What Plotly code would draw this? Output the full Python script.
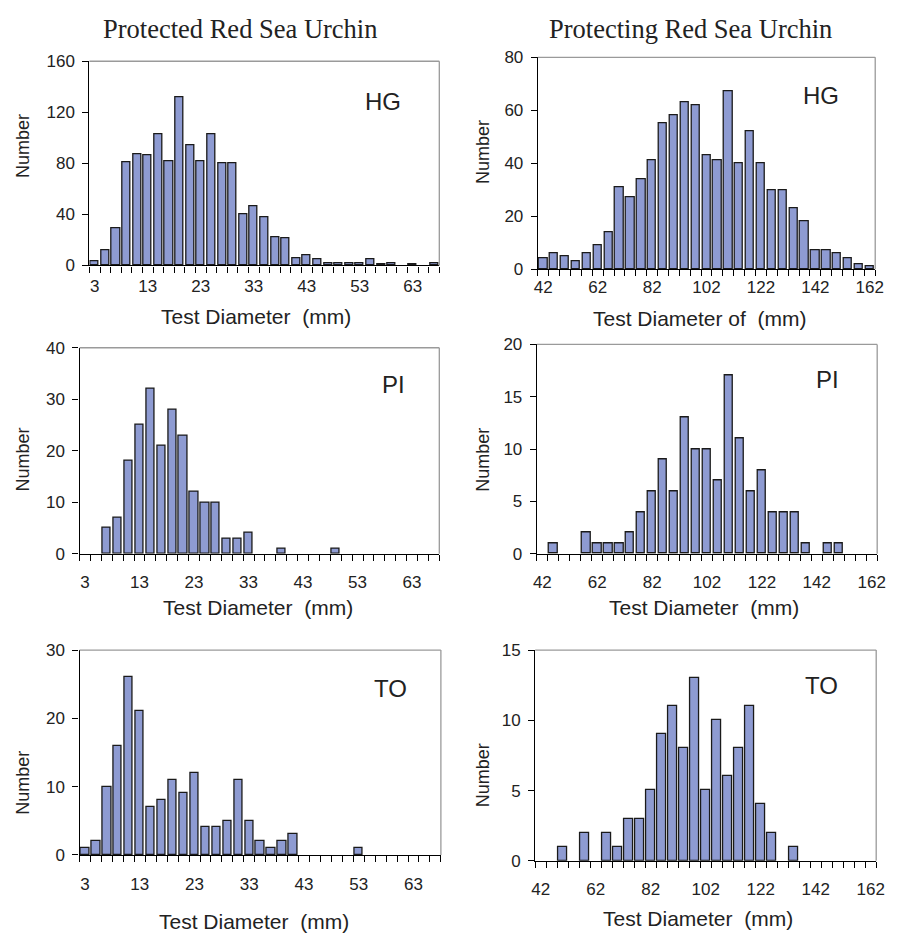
import plotly.graph_objects as go

# ---------------- data ----------------
left_bins = list(range(3, 68, 2))      # Test diameter (mm), protected urchin
right_bins = list(range(42, 163, 4))   # Test diameter (mm), protecting urchin
left_ticks = [3, 13, 23, 33, 43, 53, 63]
right_ticks = [42, 62, 82, 102, 122, 142, 162]

hg_protected = [3, 12, 29, 81, 87, 86, 103, 82, 132, 94,
                82, 103, 80, 80, 40, 46, 38, 22, 21, 6,
                8, 5, 2, 2, 2, 2, 5, 1, 2, 0,
                1, 0, 2]
pi_protected = [0, 0, 5, 7, 18, 25, 32, 21, 28, 23,
                12, 10, 10, 3, 3, 4, 0, 0, 1, 0,
                0, 0, 0, 1, 0, 0, 0, 0, 0, 0,
                0, 0, 0]
to_protected = [1, 2, 10, 16, 26, 21, 7, 8, 11, 9,
                12, 4, 4, 5, 11, 5, 2, 1, 2, 3,
                0, 0, 0, 0, 0, 1, 0, 0, 0, 0,
                0, 0, 0]

hg_protecting = [4, 6, 5, 3, 6, 9, 14, 31, 27, 34,
                 41, 55, 58, 63, 62, 43, 41, 67, 40, 52,
                 40, 30, 30, 23, 18, 7, 7, 6, 4, 2,
                 1]
pi_protecting = [0, 1, 0, 0, 2, 1, 1, 1, 2, 4,
                 6, 9, 6, 13, 10, 10, 7, 17, 11, 6,
                 8, 4, 4, 4, 1, 0, 1, 1, 0, 0,
                 0]
to_protecting = [0, 0, 1, 0, 2, 0, 2, 1, 3, 3,
                 5, 9, 11, 8, 13, 5, 10, 6, 8, 11,
                 4, 2, 0, 1, 0, 0, 0, 0, 0, 0,
                 0]

col_titles = ["Protected Red Sea Urchin", "Protecting Red Sea Urchin"]
site_labels = ["HG", "HG", "PI", "PI", "TO", "TO"]
x_titles = ["Test Diameter  (mm)", "Test Diameter of  (mm)",
            "Test Diameter  (mm)", "Test Diameter  (mm)",
            "Test Diameter  (mm)", "Test Diameter  (mm)"]
y_title = "Number"

# ---------------- styling / layout ----------------
W, H = 899, 943
BAR = "#8E9BD2"
TXT = "#222222"
SANS = "Liberation Sans, Arial, sans-serif"
SERIF = "Liberation Serif, Times New Roman, serif"

panels = [
    dict(x=left_bins, y=hg_protected, bw=2, xr=[2, 68], tv=left_ticks, ymax=160, dt=40,
         xd=(86.7, 441.7), yd=(53.3, 261.7), lab=(385, 94), xt=(256, 314), yt=(19, 140), so=5),
    dict(x=right_bins, y=hg_protecting, bw=4, xr=[40, 164], tv=right_ticks, ymax=80, dt=20,
         xd=(541.7, 884), yd=(49.3, 265.7), lab=(829, 88), xt=(706, 316), yt=(486, 146), so=2),
    dict(x=left_bins, y=pi_protected, bw=2, xr=[2, 68], tv=left_ticks, ymax=40, dt=10,
         xd=(76.7, 441.7), yd=(345.7, 556), lab=(395, 383), xt=(258, 611), yt=(19, 460), so=13),
    dict(x=right_bins, y=pi_protecting, bw=4, xr=[40, 164], tv=right_ticks, ymax=20, dt=5,
         xd=(540.7, 886), yd=(342.3, 556), lab=(836, 378), xt=(710, 611), yt=(486, 460), so=13),
    dict(x=left_bins, y=to_protected, bw=2, xr=[2, 68], tv=left_ticks, ymax=30, dt=10,
         xd=(76.7, 443.3), yd=(654.3, 863.3), lab=(392, 693), xt=(254, 931), yt=(19, 790), so=14),
    dict(x=right_bins, y=to_protecting, bw=4, xr=[40, 164], tv=right_ticks, ymax=15, dt=5,
         xd=(539, 885), yd=(654.3, 869.3), lab=(829, 690), xt=(704, 928), yt=(486, 782), so=13),
]

fig = go.Figure()
layout = dict(width=W, height=H, margin=dict(l=0, r=0, t=0, b=0),
              paper_bgcolor="white", plot_bgcolor="white", showlegend=False,
              font=dict(family=SANS, color=TXT, size=17), bargap=0)
annotations = []
shapes = []

for i, p in enumerate(panels):
    n = "" if i == 0 else str(i + 1)
    # empty classes are not drawn (no flat outline at zero)
    yvals = [v if v > 0 else None for v in p["y"]]
    fig.add_trace(go.Bar(
        x=p["x"], y=yvals, xaxis="x" + n, yaxis="y" + n,
        width=p["bw"] * 0.76,
        marker=dict(color=BAR, line=dict(color="#1a1a1a", width=1.3)),
        hoverinfo="x+y"))
    layout["xaxis" + n] = dict(
        domain=[p["xd"][0] / W, p["xd"][1] / W], anchor="y" + n,
        range=p["xr"], tickmode="array", tickvals=p["tv"], ticks="",
        showline=True, linecolor="black", linewidth=1.3,
        showgrid=False, zeroline=False, fixedrange=True,
        ticklabelstandoff=p["so"], tickfont=dict(size=17, family=SANS, color=TXT),
        minor=dict(tickmode="linear", tick0=p["xr"][0], dtick=p["bw"],
                   ticks="outside", ticklen=6, tickwidth=1.2, tickcolor="black",
                   showgrid=False))
    layout["yaxis" + n] = dict(
        domain=[1 - p["yd"][1] / H, 1 - p["yd"][0] / H], anchor="x" + n,
        range=[0, p["ymax"]], tickmode="linear", tick0=0, dtick=p["dt"],
        ticks="outside", ticklen=6, tickwidth=1.2, tickcolor="black",
        showline=True, linecolor="black", linewidth=1.3,
        showgrid=False, zeroline=False, fixedrange=True,
        ticklabelstandoff=4, tickfont=dict(size=17, family=SANS, color=TXT))
    # light gray top and right frame of the plot area
    shapes.append(dict(type="line", xref="x" + n + " domain", yref="y" + n + " domain",
                       x0=0, x1=1, y0=1, y1=1, line=dict(color="#9a9a9a", width=1.3)))
    shapes.append(dict(type="line", xref="x" + n + " domain", yref="y" + n + " domain",
                       x0=1, x1=1, y0=0, y1=1, line=dict(color="#9a9a9a", width=1.3)))
    # site label
    annotations.append(dict(text=site_labels[i], x=p["lab"][0] / W, y=1 - p["lab"][1] / H,
                            xref="paper", yref="paper", showarrow=False,
                            xanchor="center", yanchor="middle",
                            font=dict(size=24, family=SANS, color=TXT)))
    # x-axis title
    annotations.append(dict(text=x_titles[i], x=p["xt"][0] / W, y=1 - p["xt"][1] / H,
                            xref="paper", yref="paper", showarrow=False,
                            xanchor="center", yanchor="middle",
                            font=dict(size=21, family=SANS, color=TXT)))
    # y-axis title
    annotations.append(dict(text=y_title, x=p["yt"][0] / W, y=1 - p["yt"][1] / H,
                            xref="paper", yref="paper", showarrow=False, textangle=-90,
                            xanchor="center", yanchor="middle",
                            font=dict(size=18, family=SANS, color=TXT)))

for txt, cx in zip(col_titles, [240, 697]):
    annotations.append(dict(text=txt, x=cx / W, y=1 - 20 / H, xref="paper", yref="paper",
                            showarrow=False, xanchor="center", yanchor="middle",
                            font=dict(size=26.5, family=SERIF, color=TXT)))

layout["annotations"] = annotations
layout["shapes"] = shapes
fig.update_layout(**layout)
fig.write_html("out.html")
